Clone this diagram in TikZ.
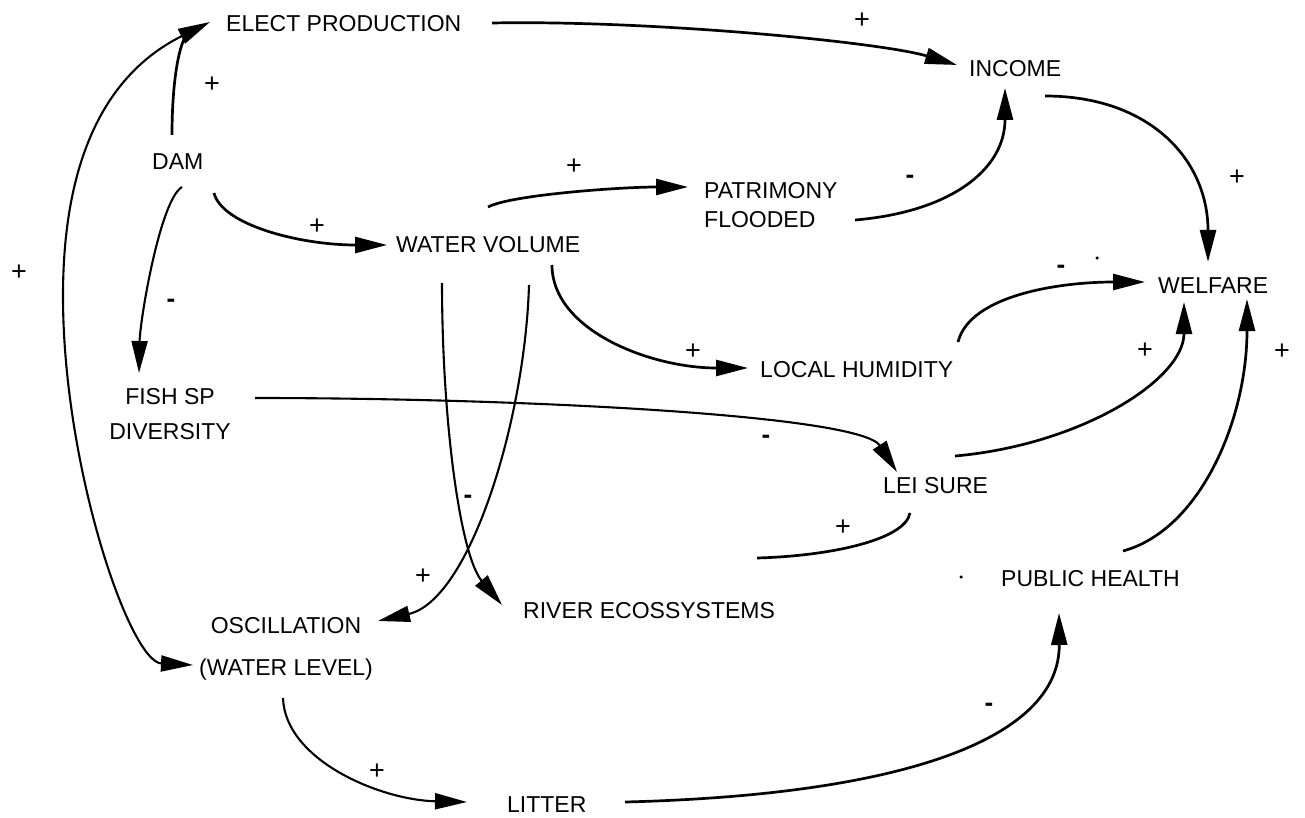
\documentclass[tikz,border=0pt]{standalone}
\usepackage{fontspec}
\setmainfont{Liberation Sans}
\usetikzlibrary{arrows.meta}
\begin{document}
\begin{tikzpicture}[x=1pt,y=-1pt,
  lbl/.style={inner sep=0pt, font=\fontsize{23}{28}\selectfont},
  sgn/.style={inner sep=0pt, font=\fontsize{27}{30}\selectfont},
  neg/.style={inner sep=0pt, font=\fontsize{26}{30}\selectfont\bfseries},
  tipA/.style={-{Triangle[length=32pt,width=16pt]}},
  lnk/.style={line width=2.7pt, tipA},
  lnkthin/.style={line width=2.1pt, tipA},
  lnkplain/.style={line width=2.7pt},
  speck/.style={circle, fill=black, inner sep=0pt, minimum size=3.5pt}]
\useasboundingbox (0,0) rectangle (1305,818);
\fill[white] (0,0) rectangle (1305,818);

% variables
\node[lbl,anchor=base west] (ep) at (226,32) {ELECT PRODUCTION};
\node[lbl,anchor=base west] (inc) at (969,77) {INCOME};
\node[lbl,anchor=base west] (dam) at (152,170) {DAM};
\node[lbl,anchor=base west] (wv) at (396,252) {WATER VOLUME};
\node[lbl,anchor=north west,align=left,font=\fontsize{23}{29}\selectfont] (pat) at (704,182) {PATRIMONY\\FLOODED};
\node[lbl,anchor=base west] (wel) at (1158,293) {WELFARE};
\node[lbl,anchor=base west] (lh) at (760,377) {LOCAL HUMIDITY};
\node[lbl,anchor=north,align=center,font=\fontsize{23}{35}\selectfont] (fish) at (170,388) {FISH SP\\DIVERSITY};
\node[lbl,anchor=base west] (lei) at (883,493) {LEI SURE};
\node[lbl,anchor=base west] (ph) at (1001,586) {PUBLIC HEALTH};
\node[lbl,anchor=base west] (river) at (523,618) {RIVER ECOSSYSTEMS};
\node[lbl,anchor=north,align=center,font=\fontsize{23}{42}\selectfont] (osc) at (286,617) {OSCILLATION\\(WATER LEVEL)};
\node[lbl,anchor=base west] (lit) at (507,812) {LITTER};

% connectors
\draw[lnkplain] ([shift={(20,-35)}]dam.base west) .. controls (172,95) and (176,55) .. ([shift={(-41,5)}]ep.base west);
\draw[line width=2.1pt, {Triangle[length=32pt,width=16pt]}-{Triangle[length=32pt,width=16pt]}]
  ([shift={(-16,-10)}]ep.base west) .. controls (130,62) and (62,125) .. (63,300)
  .. controls (64,470) and (130,662) .. ([shift={(-93,48)}]osc.north);
\draw[lnk] ([shift={(266,-9)}]ep.base west) .. controls (650,20) and (880,42) .. ([shift={(-12,-12)}]inc.base west);
\draw[lnk] ([shift={(62,23)}]dam.base west) .. controls (222,225) and (300,245) .. ([shift={(-9,-7)}]wv.base west);
\draw[lnkthin] ([shift={(30,17)}]dam.base west) .. controls (160,200) and (140,320) .. ([shift={(-31,-15)}]fish.north);
\draw[lnk] ([shift={(92,-45)}]wv.base west) .. controls (510,195) and (620,187) .. ([shift={(-16,5)}]pat.north west);
\draw[lnk] ([shift={(151,38)}]pat.north west) .. controls (950,212) and (1005,170) .. ([shift={(36,11)}]inc.base west);
\draw[lnk] ([shift={(76,19)}]inc.base west) .. controls (1150,96) and (1208,160) .. ([shift={(50,-31)}]wel.base west);
\draw[lnk] ([shift={(156,13)}]wv.base west) .. controls (552,330) and (650,368) .. ([shift={(-12,-9)}]lh.base west);
\draw[lnk] ([shift={(198,-35)}]lh.base west) .. controls (970,295) and (1060,282) .. ([shift={(-13,-11)}]wel.base west);
\draw[lnk] ([shift={(72,-37)}]lei.base west) .. controls (1080,445) and (1184,380) .. ([shift={(26,9)}]wel.base west);
\draw[lnk] ([shift={(122,-35)}]ph.base west) .. controls (1200,530) and (1247,420) .. ([shift={(89,6)}]wel.base west);
\draw[lnkthin] ([shift={(85,10)}]fish.north) .. controls (520,398) and (860,415) .. ([shift={(14,-21)}]lei.base west);
\draw[lnkthin] ([shift={(46,31)}]wv.base west) .. controls (442,420) and (460,555) .. ([shift={(-21,-13)}]river.base west);
\draw[lnkthin] ([shift={(133,33)}]wv.base west) .. controls (525,420) and (470,600) .. ([shift={(92,4)}]osc.north);
\coordinate (leiend) at (757,558);
\draw[lnkplain] (leiend) .. controls (830,556) and (905,540) .. ([shift={(27,20)}]lei.base west);
\draw[lnkthin] ([shift={(-3,81)}]osc.north) .. controls (285,760) and (380,800) .. ([shift={(-40,-10)}]lit.base west);
\draw[lnk] ([shift={(118,-10)}]lit.base west) .. controls (900,795) and (1060,740) .. ([shift={(58,27)}]ph.base west);

% signs
\node[sgn] (p1) at (862,21) {+};
\node[sgn] (p2) at (212,85) {+};
\node[sgn] (p3) at (19,273) {+};
\node[sgn] (p4) at (317,227) {+};
\node[sgn] (p5) at (574,167) {+};
\node[sgn] (p6) at (1237,178) {+};
\node[sgn] (p7) at (1145,351) {+};
\node[sgn] (p8) at (1282,352) {+};
\node[sgn] (p9) at (693,352) {+};
\node[sgn] (p10) at (843,528) {+};
\node[sgn] (p11) at (423,577) {+};
\node[sgn] (p12) at (377,772) {+};
\node[neg] (m1) at (171,303) {-};
\node[neg] (m2) at (910,179) {-};
\node[neg] (m3) at (1061,269) {-};
\node[neg] (m4) at (766,439) {-};
\node[neg] (m5) at (468,499) {-};
\node[neg] (m6) at (989,707) {-};
\node[speck] (d1) at (1097,258) {};
\node[speck] (d2) at (961,577) {};
\end{tikzpicture}
\end{document}
